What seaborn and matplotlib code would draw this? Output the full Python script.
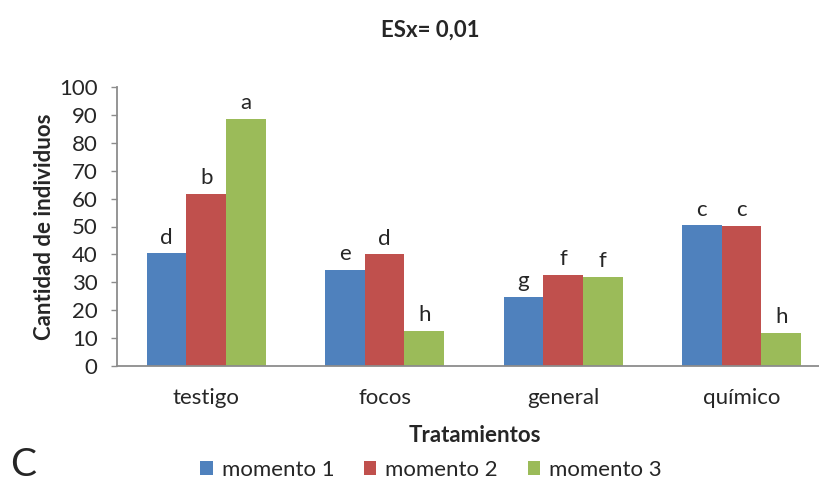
import matplotlib
matplotlib.use("Agg")
import matplotlib.pyplot as plt
import seaborn as sns
import pandas as pd

categories = ["testigo", "focos", "general", "químico"]
series_names = ["momento 1", "momento 2", "momento 3"]
momento1 = [40.4, 34.4, 24.7, 50.5]
momento2 = [61.7, 40.1, 32.6, 50.2]
momento3 = [88.6, 12.5, 31.9, 11.8]
letters1 = ["d", "e", "g", "c"]
letters2 = ["b", "d", "f", "c"]
letters3 = ["a", "h", "f", "h"]
colors = ["#4F81BD", "#C0504D", "#9BBB59"]
yticks = list(range(0, 101, 10))

rows = []
for s, vals in zip(series_names, [momento1, momento2, momento3]):
    for c, v in zip(categories, vals):
        rows.append({"Tratamientos": c, "valor": v, "serie": s})
df = pd.DataFrame(rows)

sns.set_theme(style="white")
plt.rcParams["font.family"] = ["Lato", "DejaVu Sans"]

FS = 16
fig = plt.figure(figsize=(8.2, 4.83), dpi=100)
ax = fig.add_axes([117/820, 1-365.7/483, (820-117)/820, (365.7-87.3)/483])

sns.barplot(data=df, x="Tratamientos", y="valor", hue="serie", order=categories,
            hue_order=series_names, palette=colors, saturation=1, width=0.667,
            gap=0, ax=ax, legend=False, linewidth=0)

for cont, labs in zip(ax.containers, [letters1, letters2, letters3]):
    ax.bar_label(cont, labels=labs, padding=4, fontsize=FS)

ax.set_ylim(0, 100)
ax.set_xlim(-0.5, 3.44)
ax.set_yticks(yticks)
ax.tick_params(axis="y", labelsize=FS, length=4, color="#8c8c8c", width=1, pad=10, left=True)
ax.tick_params(axis="x", labelsize=FS, length=0, pad=16)
for sp in ["top", "right"]:
    ax.spines[sp].set_visible(False)
for sp in ["left", "bottom"]:
    ax.spines[sp].set_color("#8c8c8c")
    ax.spines[sp].set_linewidth(1.3)
ax.set_ylabel("Cantidad de individuos", fontsize=FS, fontweight="bold")
ax.yaxis.set_label_coords((45-117)/703, 0.5)
ax.yaxis.label.set_va("center")
ax.set_xlabel("Tratamientos", fontsize=FS, fontweight="bold")
ax.xaxis.set_label_coords((475-117)/703, (365.7-435)/278.4)
ax.xaxis.label.set_va("center")

fig.text(430/820, 1-30/483, "ESx= 0,01", ha="center", va="center", fontsize=FS, fontweight="bold")
fig.text(10/820, 1-465/483, "C", ha="left", va="center", fontsize=28)

from matplotlib.patches import Patch
handles = [Patch(facecolor=c, edgecolor="none") for c in colors]
fig.legend(handles, series_names, loc="center", bbox_to_anchor=(431/820, 1-470/483),
           ncol=3, frameon=False, fontsize=FS, handlelength=0.55, handleheight=0.55,
           handletextpad=0.4, columnspacing=1.35)

fig.savefig("out.png", dpi=100)
